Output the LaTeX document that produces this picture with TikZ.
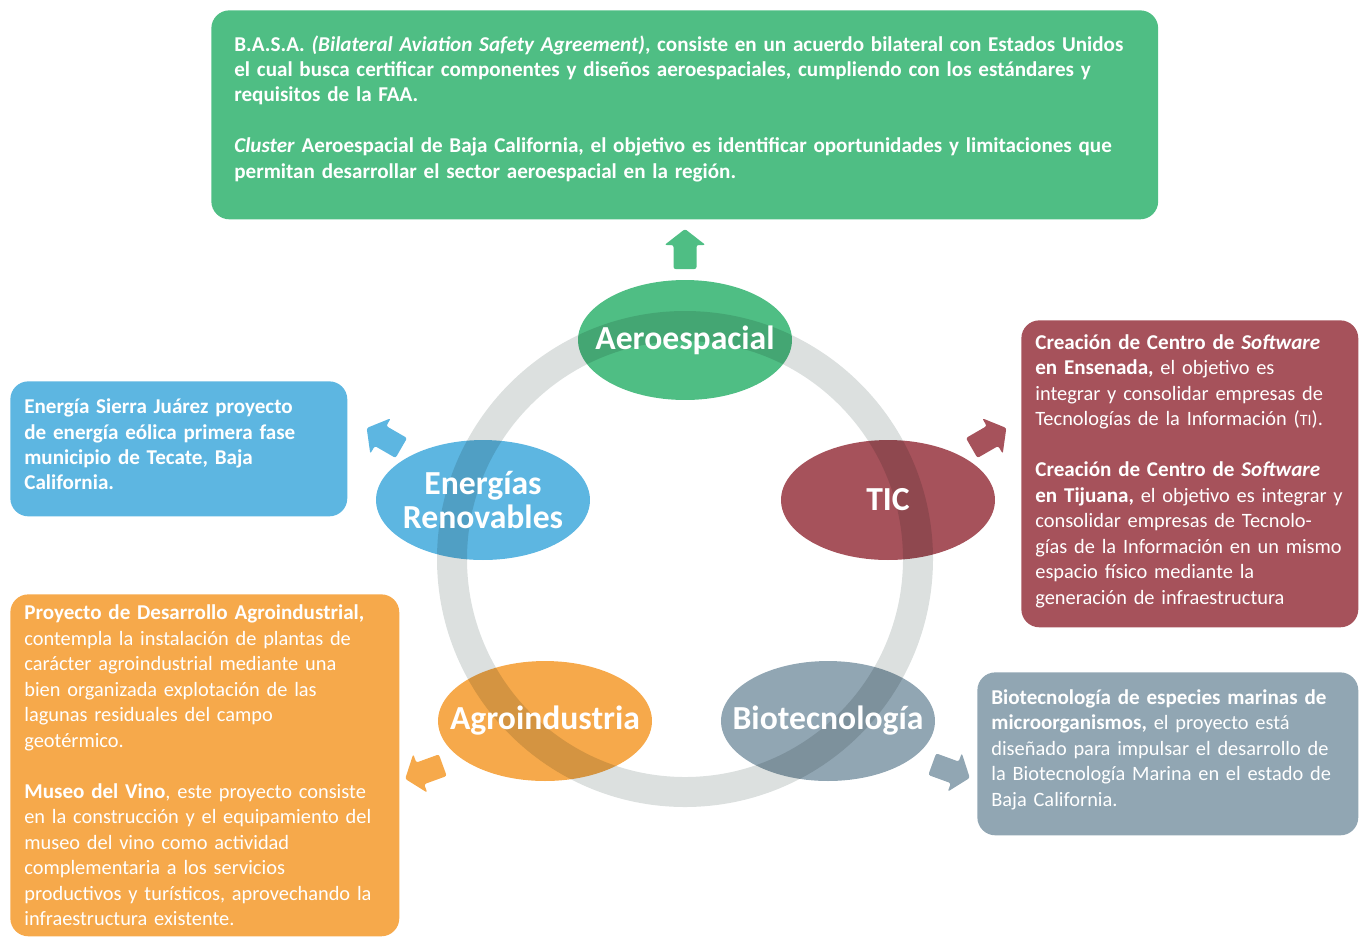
\documentclass[tikz,border=0pt]{standalone}
\usepackage{fontspec}
\setmainfont{Carlito}[BoldFeatures={Scale=1.035}, BoldItalicFeatures={Scale=1.035}]
\usetikzlibrary{shapes.geometric}
\definecolor{aerogreen}{HTML}{4FBE84}
\definecolor{energyblue}{HTML}{5DB6E1}
\definecolor{ticred}{HTML}{A6525B}
\definecolor{agroorange}{HTML}{F6A94B}
\definecolor{biogrey}{HTML}{91A6B3}
\definecolor{ringgrey}{HTML}{DCE0DF}

\begin{document}
\begin{tikzpicture}[x=0.02cm, y=-0.02cm,
    infobox/.style={rectangle, fill=#1, text=white, rounded corners=0.36cm, anchor=north west, align=left, inner xsep=0.28cm, inner ysep=0pt, font=\fontsize{11.6}{14.5}\selectfont},
    bubble/.style={ellipse, fill=#1, minimum width=4.28cm, minimum height=2.4cm, inner sep=0pt},
    bubbletext/.style={text=white, align=center, font=\fontsize{18.5}{19.5}\selectfont\bfseries},
    pointer/.pic={\fill[pic actions, rounded corners=1.2pt] (-20,-11.5) -- (4,-11.5) -- (4,-20.5) -- (20,0) -- (4,20.5) -- (4,11.5) -- (-20,11.5) -- cycle;}]
    \useasboundingbox (0,0) rectangle (1361,937);

    % text boxes
    \node[infobox=aerogreen, inner xsep=0.46cm, text width=18.02cm, minimum height=4.18cm] (aerobox) at (211,10) {\textbf{B.A.S.A. \textit{(Bilateral Aviation Safety Agreement)}, consiste en un acuerdo bilateral con Estados Unidos\\el cual busca certificar componentes y diseños aeroespaciales, cumpliendo con los estándares y\\requisitos de la FAA.\\[14.5pt]\textit{Cluster} Aeroespacial de Baja California, el objetivo es identificar oportunidades y limitaciones que\\permitan desarrollar el sector aeroespacial en la región.}\par\vspace{7pt}};
    \node[infobox=energyblue, text width=6.18cm, minimum height=2.7cm] (energybox) at (10,381) {\textbf{Energía Sierra Juárez proyecto\\de energía eólica primera fase\\municipio de Tecate, Baja\\California.}\par\vspace{5pt}};
    \node[infobox=ticred, text width=6.18cm, minimum height=6.14cm] (ticbox) at (1021,320) {\textbf{Creación de Centro de \textit{Software}\\en Ensenada,} el objetivo es\\integrar y consolidar empresas de\\Tecnologías de la Información ({\fontsize{9}{9}\selectfont TI}).\\[14.5pt]\textbf{Creación de Centro de \textit{Software}\\en Tijuana,} el objetivo es integrar y\\consolidar empresas de Tecnolo-\\gías de la Información en un mismo\\espacio físico mediante la\\generación de infraestructura\par\vspace{3pt}};
    \node[infobox=agroorange, text width=7.22cm, minimum height=6.84cm] (agrobox) at (10,594) {\textbf{Proyecto de Desarrollo Agroindustrial,}\\contempla la instalación de plantas de\\carácter agroindustrial mediante una\\bien organizada explotación de las\\lagunas residuales del campo\\geotérmico.\\[14.5pt]\textbf{Museo del Vino}, este proyecto consiste\\en la construcción y el equipamiento del\\museo del vino como actividad\\complementaria a los servicios\\productivos y turísticos, aprovechando la\\infraestructura existente.};
    \node[infobox=biogrey, text width=7.06cm, minimum height=3.26cm] (biobox) at (977,672) {\textbf{Biotecnología de especies marinas de\\microorganismos,} el proyecto está\\diseñado para impulsar el desarrollo de\\la Biotecnología Marina en el estado de\\Baja California.\par\vspace{5pt}};

    % ring and bubbles
    \draw[ringgrey, line width=0.6cm] (685,559) circle [radius=233];
    \begin{scope}[blend mode=multiply]
        \node[bubble=aerogreen] (aero) at (685,340) {};
        \node[bubble=energyblue] (energy) at (483,500) {};
        \node[bubble=ticred] (tic) at (888,500) {};
        \node[bubble=agroorange] (agro) at (545,721) {};
        \node[bubble=biogrey] (bio) at (828,721) {};
    \end{scope}
    \node[bubbletext] (aerolabel) at (aero) {Aeroespacial};
    \node[bubbletext] (energylabel) at (energy) {Energías\\Renovables};
    \node[bubbletext] (ticlabel) at (tic) {TIC};
    \node[bubbletext] (agrolabel) at (agro) {Agroindustria};
    \node[bubbletext] (biolabel) at (bio) {Biotecnología};

    % arrows
    \pic[fill=aerogreen, rotate=90] (aeroarrow) at (685,249) {pointer};
    \pic[fill=energyblue, rotate=150] (energyarrow) at (384,438) {pointer};
    \pic[fill=ticred, rotate=30] (ticarrow) at (989,438) {pointer};
    \pic[fill=agroorange, rotate=200] (agroarrow) at (424,772) {pointer};
    \pic[fill=biogrey, rotate=-20] (bioarrow) at (951,771) {pointer};
\end{tikzpicture}
\end{document}
